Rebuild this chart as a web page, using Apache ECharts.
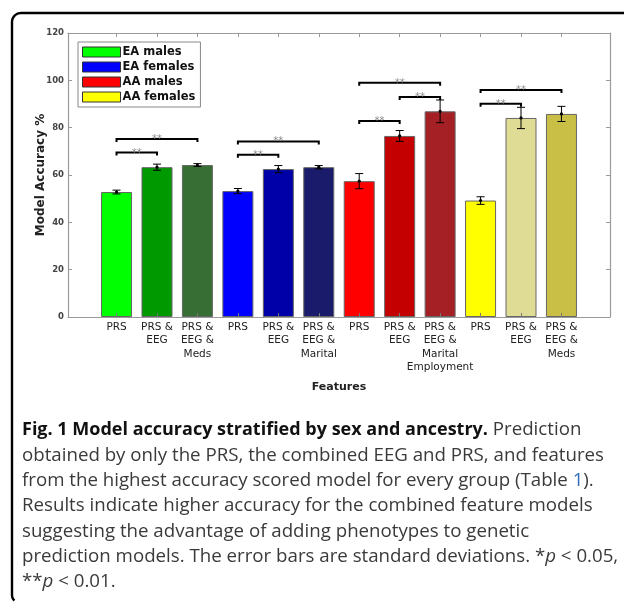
<!DOCTYPE html>
<html><head><meta charset="utf-8">
<script src="https://cdn.jsdelivr.net/npm/echarts@6/dist/echarts.min.js"></script>
<style>html,body{margin:0;padding:0;background:#fff;}#c{width:624px;height:603px;}</style>
</head><body><div id="c"></div>
<script>
// ---- data ----
const categories = ['PRS','PRS &\nEEG','PRS &\nEEG &\nMeds','PRS','PRS &\nEEG','PRS &\nEEG &\nMarital','PRS','PRS &\nEEG','PRS &\nEEG &\nMarital\nEmployment','PRS','PRS &\nEEG','PRS &\nEEG &\nMeds'];
const groupNames = ['EA males','EA females','AA males','AA females'];
const accuracy = [52.8, 63.3, 64.2, 53.2, 62.5, 63.3, 57.4, 76.5, 86.9, 49.2, 84.1, 85.8];
const stdDev   = [0.8, 1.3, 0.6, 1.1, 1.5, 0.7, 3.2, 2.3, 4.8, 1.6, 4.5, 3.2];
const barColors = ['#00ff00','#009900','#376e34','#0000ff','#0000a8','#1b1b6b','#ff0000','#c40000','#a52024','#ffff00','#dfdc96','#c9bf47'];
// significance brackets: [from bar, to bar, height %]
const brackets = [[1,2,69.5],[1,3,75.2],[4,5,68.6],[4,6,74.2],[7,8,82.8],[7,9,99.0],[8,9,93.0],[10,11,90.1],[10,12,95.9]];
const bracketLabels = ['**','**','**','**','**','**','**','**','**'];
const yTicks = [0,20,40,60,80,100,120];
const captionLines = [
  '{b|Fig. 1 Model accuracy stratified by sex and ancestry.} Prediction',
  'obtained by only the PRS, the combined EEG and PRS, and features',
  'from the highest accuracy scored model for every group (Table {l|1}).',
  'Results indicate higher accuracy for the combined feature models',
  'suggesting the advantage of adding phenotypes to genetic',
  'prediction models. The error bars are standard deviations. *{i|p} < 0.05,',
  '**{i|p} < 0.01.'
];

const positions = categories.map((c, i) => i + 1);

const capFamily = '"Open Sans", sans-serif';
const capSize = 18.7;
const capBoldSize = 18;

const chart = echarts.init(document.getElementById('c'), null, {renderer: 'canvas'});

const barSeries = groupNames.map((name, g) => ({
  name: name,
  type: 'bar',
  xAxisIndex: 0, yAxisIndex: 0,
  barWidth: 31,
  barGap: '-100%',
  itemStyle: {color: barColors[g * 3], borderColor: '#666', borderWidth: 1},
  emphasis: {disabled: true},
  data: [0, 1, 2].map(k => {
    const i = g * 3 + k;
    return {value: [positions[i], accuracy[i]], itemStyle: {color: barColors[i]}};
  }),
  z: 2
}));

const errorSeries = {
  type: 'custom',
  xAxisIndex: 0, yAxisIndex: 0,
  z: 10,
  data: accuracy.map((v, i) => [positions[i], v - stdDev[i], v + stdDev[i], v]),
  encode: {x: 0, y: [1, 2, 3]},
  renderItem(params, api) {
    const x = api.value(0);
    const lo = api.coord([x, api.value(1)]);
    const hi = api.coord([x, api.value(2)]);
    const m = api.coord([x, api.value(3)]);
    const hw = 4;
    const st = {stroke: '#000', lineWidth: 1};
    return {type: 'group', children: [
      {type: 'line', shape: {x1: lo[0], y1: lo[1], x2: hi[0], y2: hi[1]}, style: st},
      {type: 'line', shape: {x1: lo[0] - hw, y1: lo[1], x2: lo[0] + hw, y2: lo[1]}, style: st},
      {type: 'line', shape: {x1: hi[0] - hw, y1: hi[1], x2: hi[0] + hw, y2: hi[1]}, style: st},
      {type: 'circle', shape: {cx: m[0], cy: m[1], r: 1.6}, style: {fill: '#000'}}
    ]};
  }
};

const bracketSeries = {
  type: 'custom',
  xAxisIndex: 0, yAxisIndex: 0,
  z: 11,
  data: brackets.map((b, i) => [b[0], b[1], b[2], i]),
  encode: {x: [0, 1], y: 2},
  renderItem(params, api) {
    const p1 = api.coord([api.value(0), api.value(2)]);
    const p2 = api.coord([api.value(1), api.value(2)]);
    const d = 3;
    return {type: 'group', children: [
      {type: 'polyline', shape: {points: [[p1[0], p1[1] + d], [p1[0], p1[1]], [p2[0], p2[1]], [p2[0], p2[1] + d]]},
        style: {stroke: '#000', lineWidth: 2, fill: null}},
      {type: 'text', x: (p1[0] + p2[0]) / 2, y: p1[1] + 0.5,
        style: {text: bracketLabels[api.value(3)], fill: '#8a8a8a', font: '10px "DejaVu Sans"', align: 'center', verticalAlign: 'middle'}}
    ]};
  }
};

const axisGray = '#9a9a9a';
const chartFont = '"DejaVu Sans", sans-serif';

// rounded frame (top + left edges)
const framePts = [[624, 13]];
const r = 9;
for (let k = 0; k <= 12; k++) {
  const a = -Math.PI / 2 - k * (Math.PI / 2) / 12;
  framePts.push([21 + r * Math.cos(a), 22 + r * Math.sin(a)]);
}
framePts.push([12, 595]);
for (let k = 0; k <= 6; k++) {
  const a = Math.PI - k * (Math.PI / 4) / 6;
  framePts.push([20 + 8 * Math.cos(a), 595 + 8 * Math.sin(a)]);
}

const graphics = [
  {type: 'polyline', shape: {points: framePts}, style: {stroke: '#000', lineWidth: 2.4, fill: null}, silent: true}
];
captionLines.forEach((t, i) => {
  graphics.push({
    type: 'text', x: 22, y: 430 + i * 25.3, silent: true,
    style: {
      text: t, fill: '#3a3a3a', fontFamily: capFamily, fontSize: capSize, verticalAlign: 'middle',
      rich: {
        b: {fontWeight: 'bold', fill: '#111', fontFamily: capFamily, fontSize: capBoldSize},
        l: {fill: '#2f6db5', fontFamily: capFamily, fontSize: capSize},
        i: {fontStyle: 'italic', fill: '#3a3a3a', fontFamily: capFamily, fontSize: capSize}
      }
    }
  });
});

chart.setOption({
  animation: false,
  backgroundColor: '#fff',
  grid: {left: 68, right: 14, top: 33, bottom: 286, containLabel: false, outerBoundsMode: 'none'},
  legend: {
    orient: 'vertical', left: 78, top: 42,
    data: groupNames,
    itemWidth: 38, itemHeight: 10, itemGap: 3,
    icon: 'rect',
    itemStyle: {borderColor: '#333', borderWidth: 1},
    textStyle: {fontFamily: chartFont, fontWeight: 'bold', fontSize: 11.5, color: '#111', padding: [0, 0, 0, -3]},
    backgroundColor: '#fff', borderColor: '#888', borderWidth: 1, padding: [4, 5, 4, 4],
    selectedMode: false
  },
  xAxis: [
    {type: 'value', position: 'bottom', min: -0.2, max: 13.2, z: 5,
      name: 'Features', nameLocation: 'middle', nameGap: 65,
      nameTextStyle: {fontFamily: chartFont, fontWeight: 'bold', fontSize: 11, color: '#222'},
      axisLine: {show: true, onZero: false, lineStyle: {color: axisGray, width: 1.2}},
      axisTick: {show: true, inside: true, length: 4, customValues: positions, lineStyle: {color: '#777'}},
      axisLabel: {customValues: positions, formatter: v => categories[Math.round(v) - 1] || '',
        fontFamily: chartFont, fontSize: 10.5, color: '#222', lineHeight: 13.6, margin: 3},
      splitLine: {show: false}},
    {type: 'value', position: 'top', min: -0.2, max: 13.2, z: 5,
      axisLine: {show: true, onZero: false, lineStyle: {color: axisGray, width: 1.2}},
      axisTick: {show: true, inside: true, length: 4, customValues: positions, lineStyle: {color: axisGray}},
      axisLabel: {show: false}, splitLine: {show: false}}
  ],
  yAxis: [
    {type: 'value', position: 'left', min: 0, max: 120, interval: 20, z: 5,
      name: 'Model Accuracy %', nameLocation: 'middle', nameGap: 21, nameRotate: 90, nameMoveOverlap: false,
      nameTextStyle: {fontFamily: chartFont, fontWeight: 'bold', fontSize: 12, color: '#222'},
      axisLine: {show: true, onZero: false, lineStyle: {color: axisGray, width: 1.2}},
      axisTick: {show: true, inside: true, length: 4, lineStyle: {color: axisGray}},
      axisLabel: {fontFamily: chartFont, fontWeight: 'bold', fontSize: 8.5, color: '#444', margin: 4},
      splitLine: {show: false}},
    {type: 'value', position: 'right', min: 0, max: 120, interval: 20, z: 5,
      axisLine: {show: true, onZero: false, lineStyle: {color: axisGray, width: 1.2}},
      axisTick: {show: true, inside: true, length: 4, lineStyle: {color: axisGray}},
      axisLabel: {show: false}, splitLine: {show: false}}
  ],
  series: [...barSeries, errorSeries, bracketSeries],
  graphic: graphics
});
</script>
</body></html>
